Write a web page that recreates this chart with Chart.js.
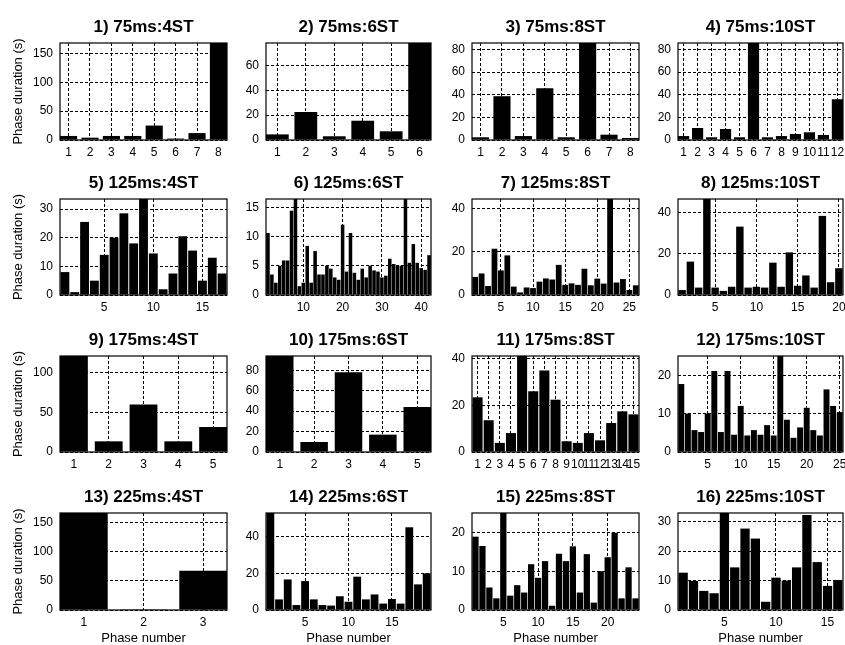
<!DOCTYPE html>
<html>
<head>
<meta charset="utf-8">
<script src="https://cdn.jsdelivr.net/npm/chart.js@4.4.1/dist/chart.umd.min.js"></script>
<style>
  html, body { margin: 0; padding: 0; background: #fff; }
  #page { position: relative; width: 845px; height: 645px; overflow: hidden; }
  #page canvas { position: absolute; }
</style>
</head>
<body>
<div id="page"></div>
<script>
// Phase durations (s) per panel, phase number = index + 1
const dur1 = [7, 4, 7, 7, 25, 2.5, 12, 168];
const dur2 = [4.5, 22.5, 3, 15.5, 7, 78];
const dur3 = [2.4, 38.7, 3.5, 45.8, 2.4, 85.7, 4.7, 1.8];
const dur4 = [3.5, 10.6, 2.4, 9.7, 2.4, 85.7, 2.4, 3.5, 5.3, 6.8, 4.4, 36];
const dur5 = [8, 1, 25.5, 5, 14, 20, 28.5, 18, 33.5, 14.5, 2, 7.5, 20.5, 15.5, 5, 13, 7.5];
const dur6 = [10.6, 3.5, 2.1, 5, 5.9, 5.9, 14.4, 16.4, 1.5, 2.1, 8.4, 2.1, 7.5, 3.5, 3.5, 5, 4.5, 3, 2.6, 12, 4,
              10.6, 3.8, 2.6, 4.5, 3, 5, 4.2, 4, 3, 3.3, 6.2, 5.3, 5, 5, 16.4, 5.5, 8.7, 5.5, 4.6, 4.3, 6.8];
const dur7 = [8.4, 10, 4.2, 21.5, 11.4, 18.4, 3.9, 1.2, 3.5, 3.2, 6.2, 7.7, 7.2, 14, 4.7, 5.4, 4.7, 12.2, 4.5,
              7.6, 5.3, 44.6, 5.8, 7.4, 2.3, 4.5];
const dur8 = [2.4, 16.2, 3.6, 46.6, 3.6, 2, 4, 33.2, 3.6, 4, 3.6, 15.7, 4, 20.7, 4.5, 9.5, 3.6, 38.4, 6.2, 13];
const dur9 = [121.5, 13.5, 60, 13.5, 31.6];
const dur10 = [94, 9.8, 78, 17, 44];
const dur11 = [23.4, 13.6, 3.9, 8.1, 41.1, 26, 34.9, 22.4, 4.6, 3.9, 8.1, 5, 12.4, 17.4, 16.1];
const dur12 = [17.7, 10, 5.7, 5.2, 10, 21.1, 5.2, 21.1, 4.5, 12, 4.3, 5.7, 4.5, 7, 4.3, 25, 8.4, 3.7, 6.4, 11.5,
               5.7, 4.3, 16.3, 12, 10.4];
const dur13 = [167, 1.5, 67.4];
const dur14 = [53, 5.8, 16.7, 2.7, 15.8, 5.8, 2.7, 2.4, 7.5, 4.5, 18.2, 5.8, 8.5, 3.5, 6, 3.5, 45.2, 14, 20];
const dur15 = [18.9, 16.5, 5.8, 3, 25, 3.7, 6.4, 4.5, 11.8, 8.3, 12.6, 1.1, 14.5, 12.6, 16.4, 4.5, 14.4, 1.9,
               10, 13.6, 19.9, 3, 11, 3];
const dur16 = [12.7, 9.9, 6.5, 5.7, 33, 14.5, 27.7, 24.3, 2.8, 11, 10, 14.5, 32.3, 16.3, 8.2, 10.2];

const panelValues = [dur1, dur2, dur3, dur4, dur5, dur6, dur7, dur8,
                     dur9, dur10, dur11, dur12, dur13, dur14, dur15, dur16];

const panelTitles = [
  '1) 75ms:4ST', '2) 75ms:6ST', '3) 75ms:8ST', '4) 75ms:10ST',
  '5) 125ms:4ST', '6) 125ms:6ST', '7) 125ms:8ST', '8) 125ms:10ST',
  '9) 175ms:4ST', '10) 175ms:6ST', '11) 175ms:8ST', '12) 175ms:10ST',
  '13) 225ms:4ST', '14) 225ms:6ST', '15) 225ms:8ST', '16) 225ms:10ST'
];

// top of each y axis (axis tight = tallest bar)
const yTops = [168, 78, 85.7, 85.7, 33.5, 16.4, 44.6, 46.6, 121.5, 94, 41.1, 25, 167, 53, 25, 33];

const yTicks = [
  [0, 50, 100, 150], [0, 20, 40, 60], [0, 20, 40, 60, 80], [0, 20, 40, 60, 80],
  [0, 10, 20, 30], [0, 5, 10, 15], [0, 20, 40], [0, 20, 40],
  [0, 50, 100], [0, 20, 40, 60, 80], [0, 20, 40], [0, 10, 20],
  [0, 50, 100, 150], [0, 20, 40], [0, 10, 20], [0, 10, 20, 30]
];

const xTicks = [
  [1, 2, 3, 4, 5, 6, 7, 8], [1, 2, 3, 4, 5, 6], [1, 2, 3, 4, 5, 6, 7, 8], [1, 2, 3, 4, 5, 6, 7, 8, 9, 10, 11, 12],
  [5, 10, 15], [10, 20, 30, 40], [5, 10, 15, 20, 25], [5, 10, 15, 20],
  [1, 2, 3, 4, 5], [1, 2, 3, 4, 5], [1, 2, 3, 4, 5, 6, 7, 8, 9, 10, 11, 12, 13, 14, 15], [5, 10, 15, 20, 25],
  [1, 2, 3], [5, 10, 15], [5, 10, 15, 20], [5, 10, 15]
];

// panels drawn with MATLAB's default 0.8 bar width, the rest use full width bars
const gappedPanels = [0, 1, 2, 3, 8, 9, 12];

// frame positions of the axes boxes
const colLeft = [60, 266, 472, 678];
const colRight = [227, 431, 639, 843];
const rowTop = [43, 199, 356, 513];
const rowBottom = [140, 295, 452, 610];

const FONT = "'Liberation Sans', Arial, sans-serif";

const framePlugin = {
  id: 'frame',
  afterDatasetsDraw(chart) {
    const { ctx, chartArea: a } = chart;
    ctx.save();
    ctx.strokeStyle = '#000';
    ctx.lineWidth = 1.2;
    ctx.strokeRect(a.left, a.top, a.right - a.left, a.bottom - a.top);
    ctx.restore();
  }
};

const page = document.getElementById('page');

function makePanel(i) {
  const r = Math.floor(i / 4), c = i % 4;
  const L = colLeft[c], R = colRight[c], T = rowTop[r], B = rowBottom[r];
  const axW = c === 0 ? L : 40;
  const titleH = 31;
  const xH = r === 3 ? 645 - B : 24;

  const canvas = document.createElement('canvas');
  canvas.width = axW * 2 + (R - L);
  canvas.height = titleH + (B - T) + xH;
  canvas.style.left = (L - axW) + 'px';
  canvas.style.top = (T - titleH) + 'px';
  page.appendChild(canvas);

  const values = panelValues[i];
  const gapped = gappedPanels.includes(i);
  const half = gapped ? 0.4 : 0.5;

  new Chart(canvas, {
    type: 'bar',
    data: {
      datasets: [{
        data: values.map((v, k) => ({ x: k + 1, y: v })),
        backgroundColor: '#000',
        borderWidth: 0,
        barPercentage: gapped ? 0.8 : 0.9,
        categoryPercentage: 1
      }]
    },
    options: {
      responsive: false,
      animation: false,
      layout: { padding: 0 },
      plugins: {
        legend: { display: false },
        tooltip: { enabled: false },
        title: {
          display: true,
          text: panelTitles[i],
          color: '#000',
          font: { family: FONT, size: 17, weight: 'bold', lineHeight: 1.2 },
          padding: { top: 5, bottom: 5.6 }
        }
      },
      scales: {
        x: {
          type: 'linear',
          offset: false,
          min: 1 - half,
          max: values.length + half,
          grid: { color: '#000', drawTicks: false, offset: false },
          border: { display: false, dash: [3, 2] },
          ticks: {
            color: '#000',
            font: { family: FONT, size: 12 },
            padding: 5,
            autoSkip: false,
            maxRotation: 0,
            minRotation: 0,
            callback: v => String(v)
          },
          afterBuildTicks: ax => { ax.ticks = xTicks[i].map(v => ({ value: v })); },
          afterFit: ax => { ax.height = xH; },
          title: {
            display: r === 3,
            text: 'Phase number',
            color: '#000',
            font: { family: FONT, size: 13, lineHeight: 1 },
            padding: { top: 0, bottom: 0 }
          }
        },
        y: {
          min: 0,
          max: yTops[i],
          grid: { color: '#000', drawTicks: false },
          border: { display: false, dash: [3, 2] },
          ticks: {
            color: '#000',
            font: { family: FONT, size: 12 },
            padding: 7,
            callback: v => String(v)
          },
          afterBuildTicks: ax => { ax.ticks = yTicks[i].map(v => ({ value: v })); },
          afterFit: ax => { ax.width = axW; },
          title: {
            display: c === 0,
            text: 'Phase duration (s)',
            color: '#000',
            font: { family: FONT, size: 13, lineHeight: 1 },
            padding: { top: 11.5, bottom: 0 }
          }
        },
        // empty right-hand axis so the title centres over the plot box
        spacer: {
          type: 'linear',
          position: 'right',
          min: 0,
          max: 1,
          grid: { display: false },
          border: { display: false },
          ticks: { display: false },
          afterFit: ax => { ax.width = axW; }
        }
      }
    },
    plugins: [framePlugin]
  });
}

for (let i = 0; i < 16; i++) makePanel(i);
</script>
</body>
</html>
